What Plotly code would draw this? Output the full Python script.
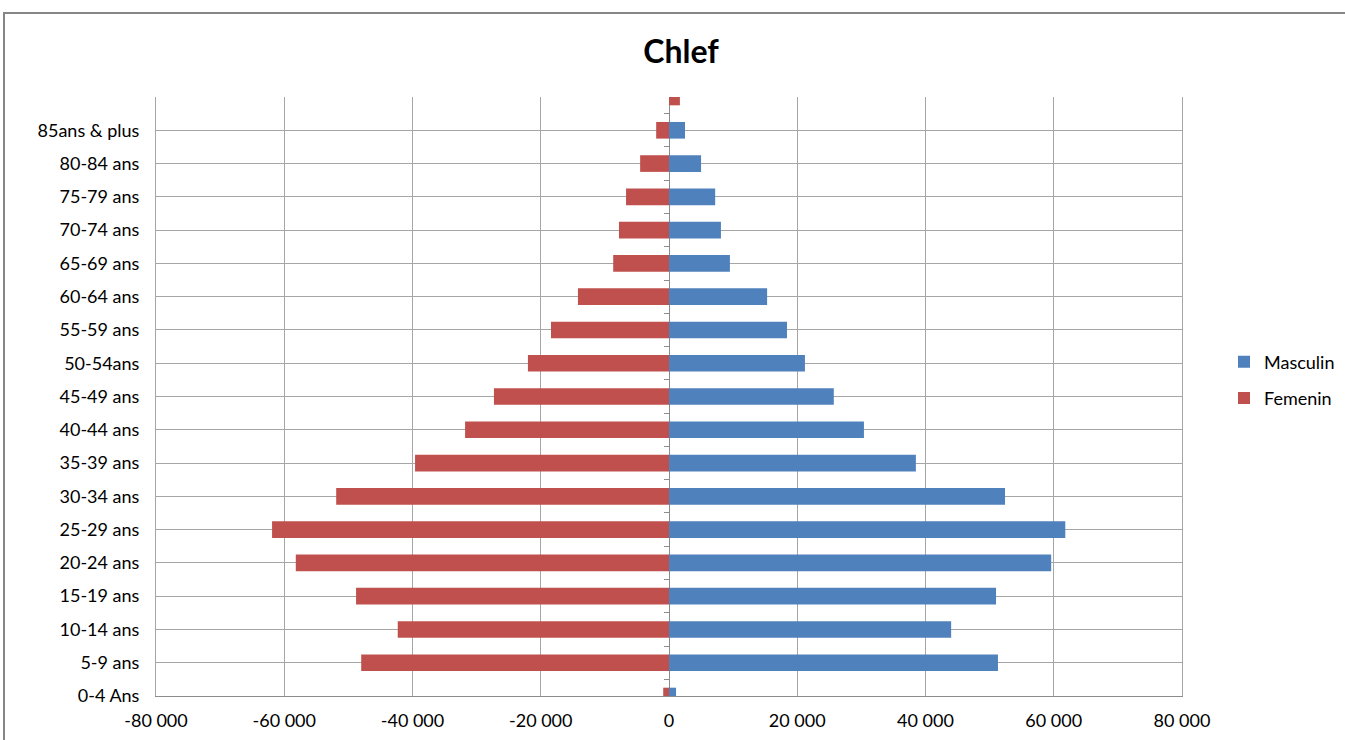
import plotly.graph_objects as go

categories = ["0-4 Ans", "5-9 ans", "10-14 ans", "15-19 ans", "20-24 ans", "25-29 ans",
              "30-34 ans", "35-39 ans", "40-44 ans", "45-49 ans", "50-54ans", "55-59 ans",
              "60-64 ans", "65-69 ans", "70-74 ans", "75-79 ans", "80-84 ans", "85ans & plus", ""]
masculin = [1100, 51300, 44000, 51000, 59600, 61800, 52400, 38500, 30400, 25700, 21200,
            18400, 15300, 9500, 8100, 7200, 5000, 2500, 0]
femenin = [-900, -48000, -42300, -48800, -58200, -61900, -51900, -39600, -31800, -27300,
           -22000, -18400, -14200, -8700, -7800, -6700, -4500, -2000, 1700]
x_tickvals = [-80000, -60000, -40000, -20000, 0, 20000, 40000, 60000, 80000]
x_ticktext = ["-80 000", "-60 000", "-40 000", "-20 000", "0", "20 000", "40 000", "60 000", "80 000"]

ypos = list(range(len(categories)))
FONT = "Lato, Open Sans, sans-serif"

W, H = 1345, 740
L, R, T, B = 156, 163, 97, 44
PW, PH = W - L - R, H - T - B

fig = go.Figure()
fig.add_trace(go.Bar(y=ypos, x=masculin, orientation="h", name="Masculin",
                     marker=dict(color="#4F81BD", line=dict(width=0)), width=0.5,
                     legendgroup="m"))
fig.add_trace(go.Bar(y=ypos, x=femenin, orientation="h", name="Femenin",
                     marker=dict(color="#C0504D", line=dict(width=0)), width=0.5,
                     legendgroup="f"))
# invisible trace to carry the mid-category tick marks on the zero axis
fig.add_trace(go.Scatter(x=[0], y=[0], mode="markers", marker=dict(opacity=0),
                         showlegend=False, hoverinfo="skip", xaxis="x", yaxis="y2"))

fig.update_layout(
    autosize=False,
    width=W, height=H,
    margin=dict(l=L, r=R, t=T, b=B, autoexpand=False),
    paper_bgcolor="white", plot_bgcolor="white",
    barmode="overlay",
    font=dict(family=FONT, size=18, color="#000000"),
    title=dict(text="<b>Chlef</b>", x=681 / W, xanchor="center", y=1 - 52 / H,
               yanchor="middle", font=dict(family=FONT, size=32, color="#000000")),
    xaxis=dict(range=[-80000, 80000], tickvals=x_tickvals, ticktext=x_ticktext,
               showgrid=True, gridcolor="#A6A6A6", gridwidth=1,
               zeroline=True, zerolinecolor="#8C8C8C", zerolinewidth=1,
               showline=True, linecolor="#8C8C8C", linewidth=1, mirror=False,
               ticks="outside", ticklen=8, tickcolor="rgba(0,0,0,0)",
               tickfont=dict(size=18, family=FONT), fixedrange=True),
    yaxis=dict(range=[0, 18], tickvals=ypos, ticktext=categories,
               showgrid=True, gridcolor="#A6A6A6", gridwidth=1, zeroline=False,
               showline=True, linecolor="#A6A6A6", linewidth=1, mirror=True,
               ticks="outside", ticklen=12, tickcolor="rgba(0,0,0,0)",
               tickfont=dict(size=18, family=FONT)),
    yaxis2=dict(range=[0, 18], overlaying="y", anchor="free", position=0.5, side="left",
                tickvals=[i + 0.5 for i in range(18)], ticks="outside", ticklen=5,
                tickcolor="#8C8C8C", showticklabels=False, showgrid=False,
                zeroline=False, showline=False),
    legend=dict(xref="container", yref="container",
                x=1224 / W, y=1 - 380 / H, xanchor="left", yanchor="middle",
                traceorder="grouped", tracegroupgap=10,
                font=dict(size=18, family=FONT), bgcolor="rgba(0,0,0,0)"),
    shapes=[dict(type="rect", xref="paper", yref="paper",
                 x0=(4 - L) / PW, x1=(1420 - L) / PW,
                 y0=-0.3, y1=1 + (T - 13) / PH,
                 line=dict(color="#868686", width=2), fillcolor="rgba(0,0,0,0)",
                 layer="below")],
)

post = ("var gd=document.getElementById('{plot_id}');"
        "document.documentElement.style.overflow='hidden';"
        "document.body.style.margin='0';document.body.style.overflow='hidden';"
        "gd.style.width='%dpx';gd.style.height='%dpx';"
        "Plotly.relayout(gd,{autosize:false,width:%d,height:%d});" % (W, H, W, H))
fig.write_html("out.html", post_script=post,
               config={"displayModeBar": False, "responsive": False})
